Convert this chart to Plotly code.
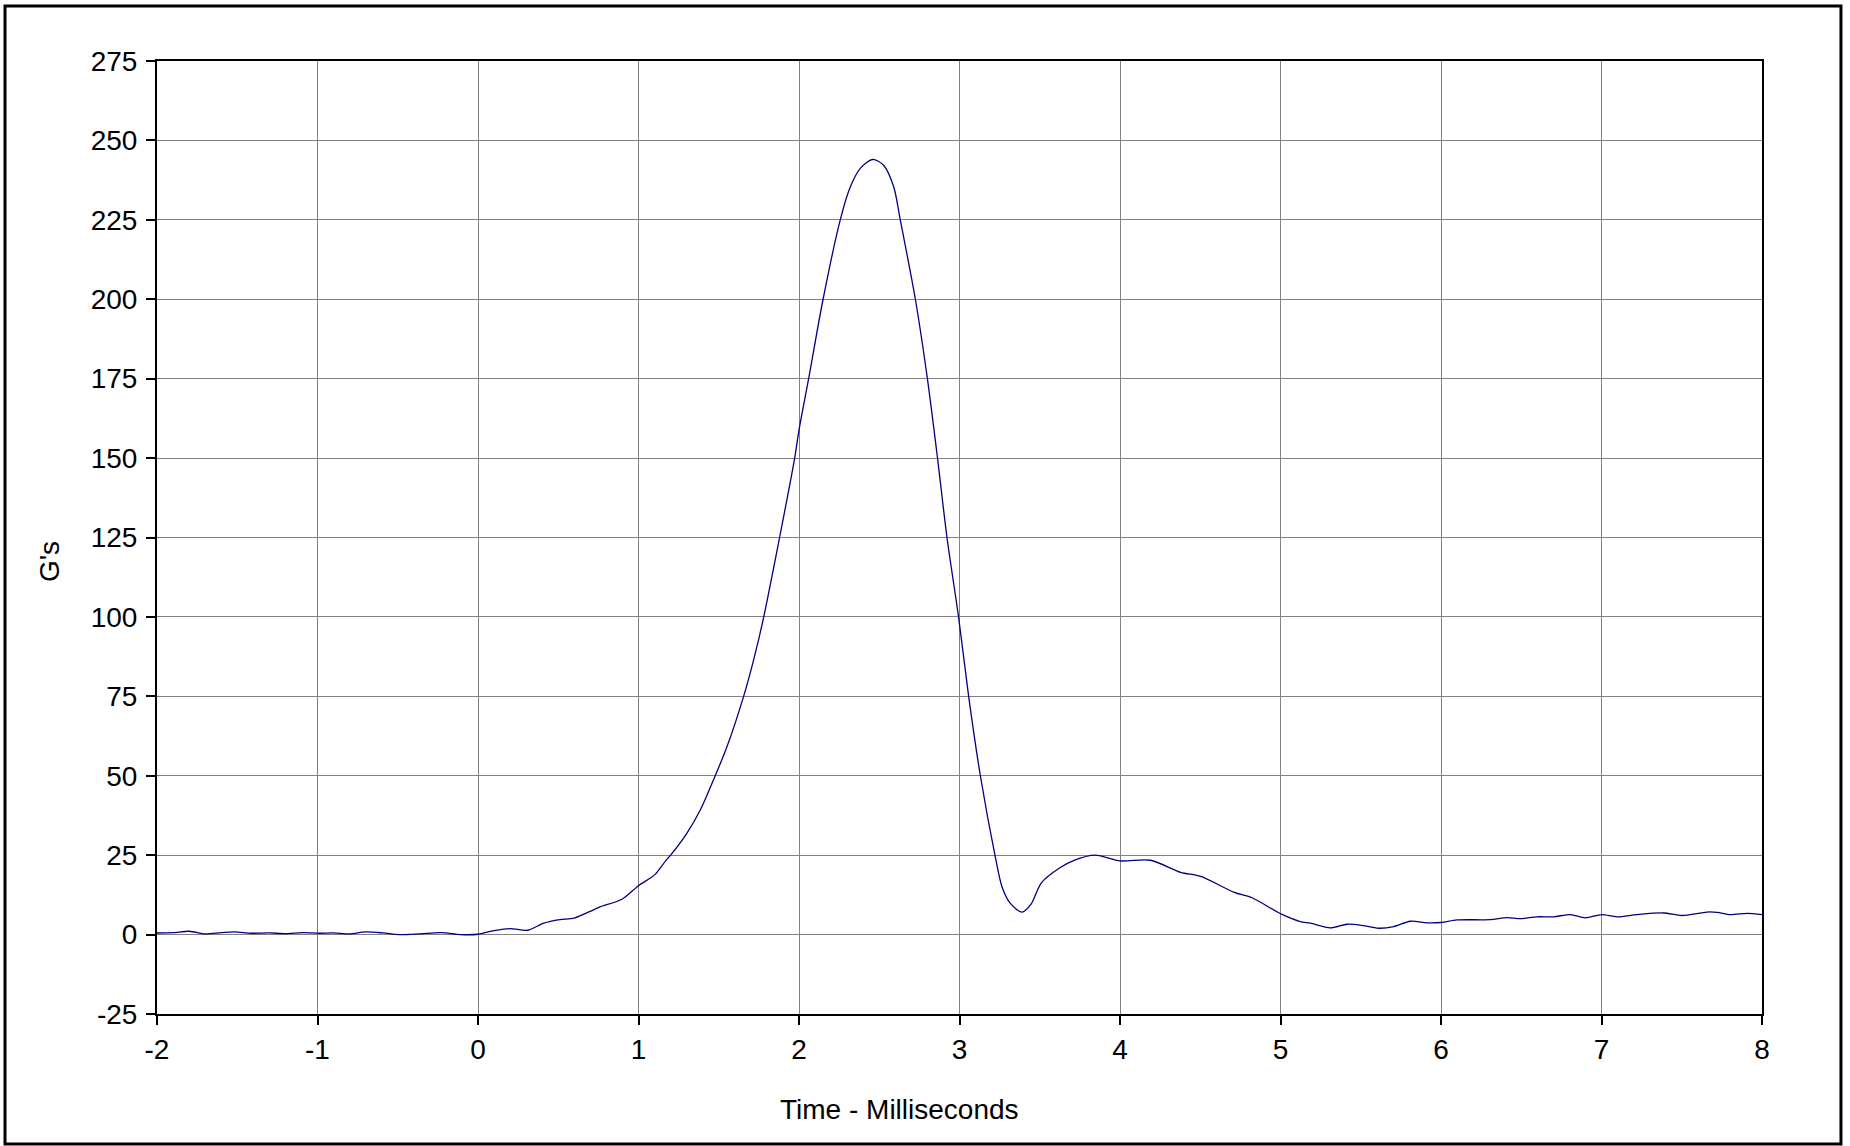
import plotly.graph_objects as go

time_ms = [-2.0, -1.9, -1.8, -1.7, -1.6, -1.52, -1.41, -1.3, -1.2, -1.09, -0.99, -0.9, -0.8, -0.7,
           -0.59, -0.49, -0.37, -0.23, -0.11, 0.0, 0.1, 0.2, 0.31, 0.41, 0.51, 0.6, 0.72, 0.76, 0.9,
           1.0, 1.1, 1.17, 1.2, 1.3, 1.385, 1.478, 1.551, 1.655, 1.717, 1.776, 1.879, 1.973, 2.0,
           2.06, 2.15, 2.257, 2.32, 2.382, 2.459, 2.527, 2.59, 2.631, 2.725, 2.80, 2.863, 2.922,
           2.994, 3.057, 3.13, 3.223, 3.265, 3.317, 3.389, 3.446, 3.51, 3.628, 3.71, 3.846, 4.0,
           4.19, 4.378, 4.503, 4.712, 4.823, 5.003, 5.123, 5.186, 5.31, 5.414, 5.497, 5.611, 5.705,
           5.809, 5.913, 6.0, 6.1, 6.307, 6.411, 6.494, 6.598, 6.701, 6.806, 6.899, 7.0, 7.097,
           7.221, 7.387, 7.501, 7.657, 7.72, 7.803, 7.907, 8.0]
g_values = [0.5, 0.6, 1.05, 0.2, 0.6, 0.84, 0.42, 0.52, 0.31, 0.63, 0.42, 0.52, 0.2, 0.84,
            0.52, 0.0, 0.2, 0.63, 0.0, 0.1, 1.26, 1.9, 1.36, 3.6, 4.7, 5.2, 7.8, 8.7, 11.2,
            15.4, 18.8, 23.3, 25.0, 31.8, 39.2, 50.0, 59.1, 75.0, 86.4, 99.0, 125.0, 150.0, 158.8,
            175.0, 200.0, 225.0, 235.4, 241.2, 244.0, 242.2, 235.4, 225.0, 200.0, 175.0, 150.0, 125.0,
            100.0, 75.0, 50.0, 24.5, 15.0, 9.8, 7.1, 9.6, 16.3, 21.1, 23.3, 25.0, 23.2,
            23.4, 19.6, 18.3, 13.3, 11.6, 6.5, 4.1, 3.6, 2.1, 3.25, 3.0, 2.0, 2.5,
            4.2, 3.7, 3.8, 4.6, 4.7, 5.35, 5.0, 5.6, 5.6, 6.3, 5.25, 6.3, 5.6,
            6.3, 6.8, 6.0, 7.1, 7.0, 6.3, 6.7, 6.3]

x_ticks = [-2, -1, 0, 1, 2, 3, 4, 5, 6, 7, 8]
y_ticks = [-25, 0, 25, 50, 75, 100, 125, 150, 175, 200, 225, 250, 275]

FONT = "Liberation Sans, Arial, sans-serif"

fig = go.Figure()
fig.add_trace(go.Scatter(
    x=time_ms, y=g_values, mode="lines",
    line=dict(color="#000080", width=1.3, shape="spline", smoothing=0.8),
    showlegend=False, hoverinfo="x+y",
))

axis_common = dict(
    showgrid=True, gridcolor="#808080", gridwidth=1,
    zeroline=False,
    showline=True, linecolor="black", linewidth=2, mirror=True,
    ticks="outside", ticklen=9, tickwidth=2, tickcolor="black",
    tickfont=dict(family=FONT, size=28, color="black"),
)

fig.update_xaxes(range=[-2, 8], tickvals=x_ticks, ticktext=[str(v) for v in x_ticks],
                 **axis_common)
fig.update_yaxes(range=[-25, 275], tickvals=y_ticks, ticktext=[str(v) for v in y_ticks],
                 ticklabelstandoff=3, **axis_common)

fig.add_annotation(text="Time - Milliseconds", xref="paper", yref="paper",
                   x=0.4627, y=-0.1007, xanchor="center", yanchor="middle",
                   showarrow=False, font=dict(family=FONT, size=28, color="black"))
fig.add_annotation(text="G's", xref="paper", yref="paper",
                   x=-0.0673, y=0.4753, xanchor="center", yanchor="middle", textangle=-90,
                   showarrow=False, font=dict(family=FONT, size=28, color="black"))

# outer chart border
fig.add_shape(type="rect", xref="paper", yref="paper",
              x0=-0.0947, x1=1.0492, y0=-0.1364, y1=1.0577,
              line=dict(color="black", width=3), fillcolor="rgba(0,0,0,0)", layer="above")

fig.update_layout(
    width=1850, height=1146,
    margin=dict(l=157, r=88, t=61, b=132),
    paper_bgcolor="white", plot_bgcolor="white",
    font=dict(family=FONT, size=28, color="black"),
)

fig.write_html("out.html", config={"displayModeBar": False},
               post_script="document.body.style.margin='0';document.body.style.overflow='hidden';")
